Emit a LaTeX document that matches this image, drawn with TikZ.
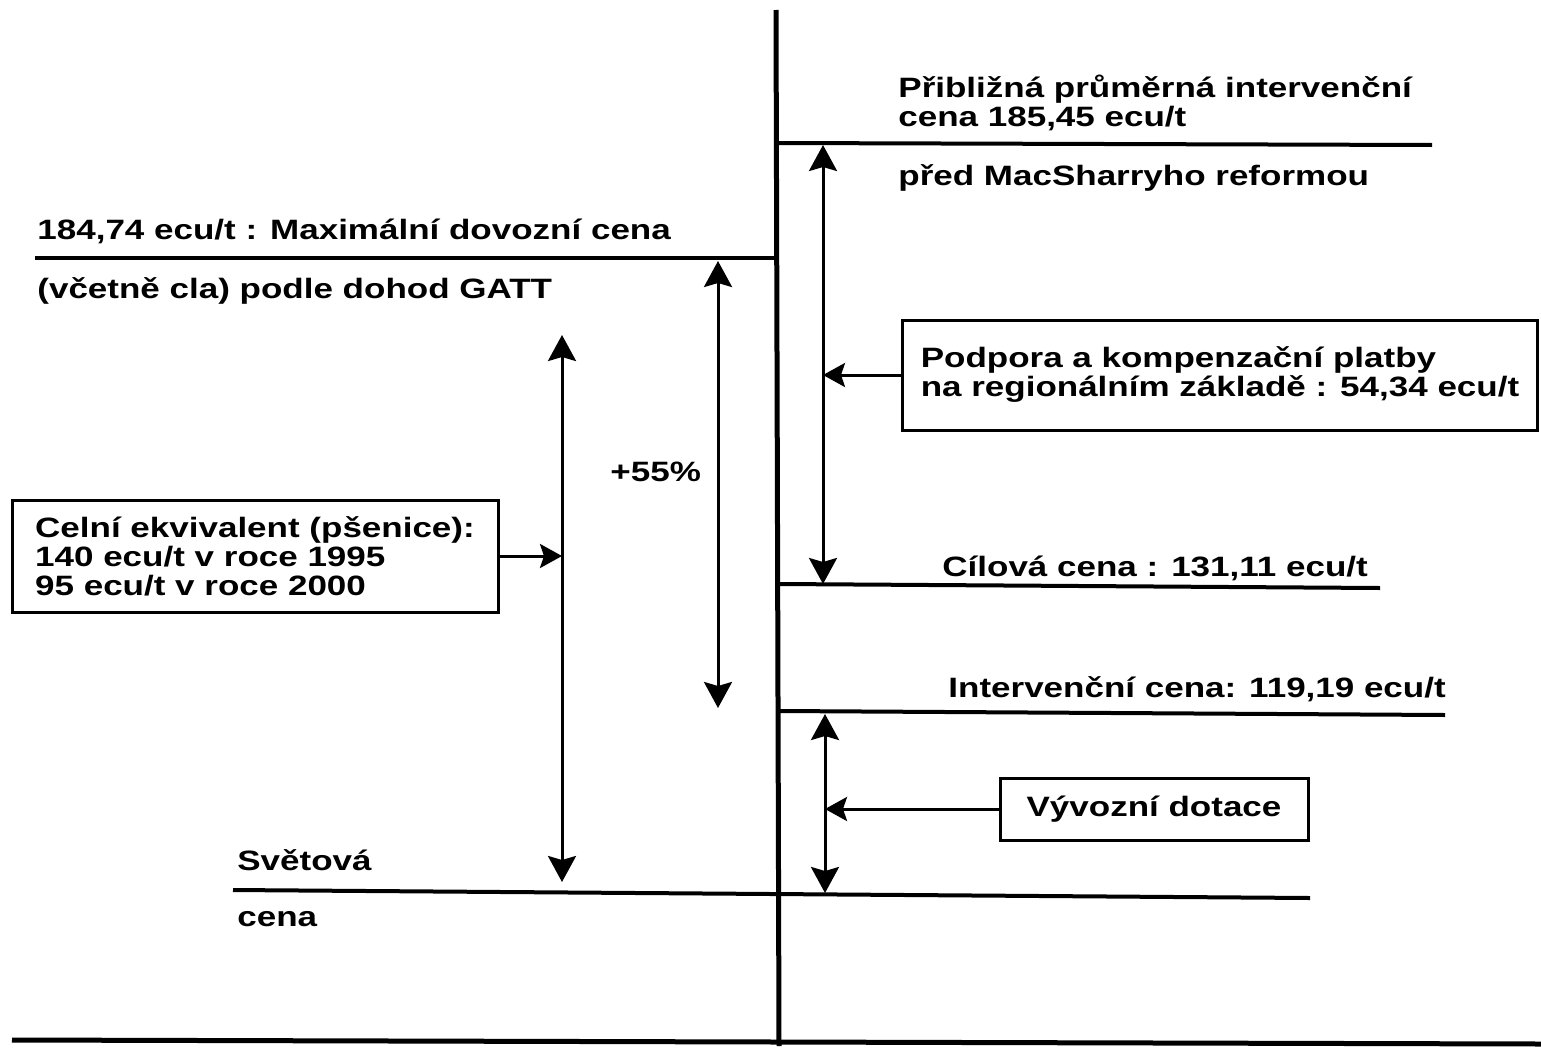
\documentclass[tikz,border=0pt]{standalone}
\usepackage{fontspec}
\setmainfont[FakeStretch=1.25]{Liberation Sans}
\usetikzlibrary{arrows.meta}

\begin{document}
\begin{tikzpicture}[x=0.5pt,y=-0.5pt,
  every node/.style={font=\bfseries\fontsize{14}{14.5}\selectfont,inner sep=0pt,align=left},
  pricelevel/.style={line width=2pt},
  pricegap/.style={line width=1.5pt,{Stealth[length=13pt,width=14pt,inset=2pt]}-{Stealth[length=13pt,width=14pt,inset=2pt]}},
  pointer/.style={line width=1.5pt,-{Stealth[length=11pt,width=12pt,inset=2pt]}},
  infobox/.style={draw,line width=1.5pt}]
\useasboundingbox (0,0) rectangle (1541,1049);

\draw[line width=2.5pt] (776,10) -- (779,1046);
\draw[line width=2.5pt] (12,1040) -- (1541,1044);

\draw[pricelevel] (778,143) -- (1432,145);
\draw[pricelevel] (35,258) -- (776,258);
\draw[pricelevel] (780,584) -- (1380,588);
\draw[pricelevel] (780,711) -- (1445,715);
\draw[pricelevel] (233,890) -- (1310,898);

\node[anchor=west] (pribl) at (898,103) {Přibližná průměrná intervenční\\cena 185,45 ecu/t};
\node[anchor=west] (pred) at (898,178) {před MacSharryho reformou};
\node[anchor=west] (maxcena) at (37,231) {184,74 ecu/t : Maximální dovozní cena};
\node[anchor=west] (gatt) at (37,291) {(včetně cla) podle dohod GATT};
\node[anchor=west] (proc) at (610,472) {+55\%};
\node[anchor=west] (cilova) at (942,568) {Cílová cena : 131,11 ecu/t};
\node[anchor=west] (interv) at (948,689) {Intervenční cena: 119,19 ecu/t};
\node[anchor=west] (svet) at (237,860) {Světová};
\node[anchor=west] (svetcena) at (237,919) {cena};

\node[infobox,minimum width=243pt,minimum height=56pt] (celni) at (255,556) {Celní ekvivalent (pšenice):\\140 ecu/t v roce 1995\\95 ecu/t v roce 2000};
\node[infobox,minimum width=317.5pt,minimum height=55pt] (podpora) at (1220,375) {Podpora a kompenzační platby\\na regionálním základě : 54,34 ecu/t};
\node[infobox,minimum width=154pt,minimum height=31pt] (vyvoz) at (1154,809) {Vývozní dotace};

\coordinate (clo1) at (562,335);
\coordinate (clo2) at (562,882);
\coordinate (rozdil1) at (718,261);
\coordinate (rozdil2) at (718,708);
\coordinate (podp1) at (823,145);
\coordinate (podp2) at (823,584);
\coordinate (dot1) at (825,714);
\coordinate (dot2) at (825,893);

\draw[pricegap] (clo1) -- (clo2);
\draw[pricegap] (rozdil1) -- (rozdil2);
\draw[pricegap] (podp1) -- (podp2);
\draw[pricegap] (dot1) -- (dot2);

\draw[pointer] (celni.east) -- (celni.east -| clo1);
\draw[pointer] (podpora.west) -- (podpora.west -| podp1);
\draw[pointer] (vyvoz.west) -- (vyvoz.west -| dot1);
\end{tikzpicture}
\end{document}
